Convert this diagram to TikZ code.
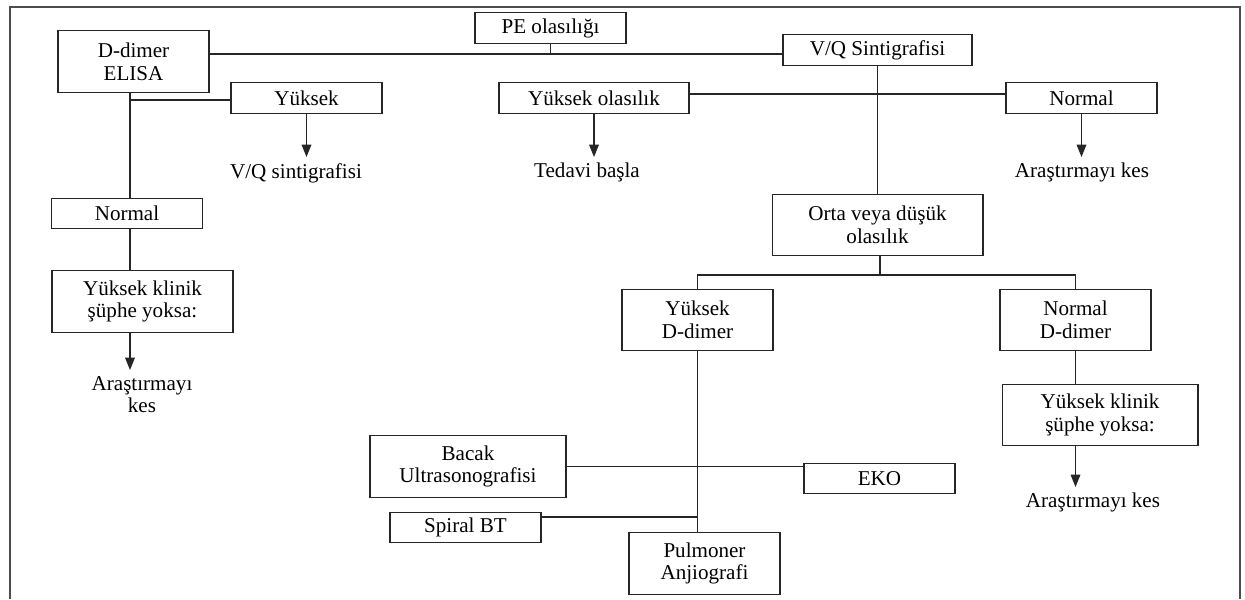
\documentclass[tikz,border=0pt]{standalone}
\usepackage{fontspec}
\setmainfont{Liberation Serif}
\usetikzlibrary{arrows.meta}

\begin{document}
\begin{tikzpicture}[
    x=0.02cm, y=-0.02cm,
    every node/.style={font=\fontsize{12}{13}\selectfont, align=center},
    kutu/.style={draw=black!85, line width=0.6pt, minimum width=3.02cm, minimum height=0.61cm, inner sep=1pt},
    ikisatir/.style={kutu, minimum height=1.23cm},
    baglanti/.style={draw=black!85, line width=0.6pt},
    kalin/.style={baglanti, line width=1.1pt},
    ok/.style={baglanti, -{Triangle[length=7pt, width=5.5pt]}},
]

    \useasboundingbox (0,0) rectangle (1245,599);
    \draw[gray!60!black, line width=1.1pt] (10,599) |- (1240,7) -- (1240,599);

    \node[ikisatir] (ddimer) at (133.5,61.5) {D-dimer\\ELISA};
    \node[kutu] (pe) at (550.5,28) {PE olasılığı};
    \node[kutu, minimum width=3.78cm] (vq) at (877.5,50) {V/Q Sintigrafisi};

    \node[kutu] (yuksekL) at (306.5,98) {Yüksek};
    \node (vqtxt) [anchor=north] at (296,157) {V/Q sintigrafisi};
    \node[kutu] (normalL) at (127,213.5) {Normal};
    \node[ikisatir, minimum width=3.62cm] (klinikL) at (142.5,301.5) {Yüksek klinik\\şüphe yoksa:};
    \node (kesL) [anchor=north] at (142,370) {Araştırmayı\\kes};

    \node[kutu, minimum width=3.8cm] (yuksekol) at (594,98) {Yüksek olasılık};
    \node (tedavi) [anchor=north] at (587,157) {Tedavi başla};
    \node[kutu] (normalR) at (1081.5,98) {Normal};
    \node (kesR) [anchor=north] at (1082,157) {Araştırmayı kes};

    \node[ikisatir, minimum width=4.22cm] (orta) at (877.5,225) {Orta veya düşük\\olasılık};
    \node[ikisatir] (yddimer) at (697.5,320) {Yüksek\\D-dimer};
    \node[ikisatir] (nddimer) at (1075.5,320) {Normal\\D-dimer};
    \node[ikisatir, minimum width=3.92cm] (klinikR) at (1100,415) {Yüksek klinik\\şüphe yoksa:};
    \node (kesR2) [anchor=north] at (1093,487) {Araştırmayı kes};

    \node[ikisatir, minimum width=3.92cm] (bacak) at (468,466.5) {Bacak\\Ultrasonografisi};
    \node[kutu] (spiral) at (465.5,527.5) {Spiral BT};
    \node[ikisatir] (pulmoner) at (704.5,563.5) {Pulmoner\\Anjiografi};
    \node[kutu] (eko) at (879.5,478.5) {EKO};

    % ust baglantilar
    \coordinate (pej) at (550.5,54);
    \draw[kalin] (ddimer.east |- pej) -- (pej);
    \draw[baglanti] (pej) -- (vq.west |- pej);
    \draw[baglanti] (pe.south) -- (pej);

    \coordinate (lv) at (130,100);
    \draw[kalin] (ddimer.south -| lv) -- (normalL.north -| lv);
    \draw[baglanti] (lv) -- (yuksekL.west |- lv);
    \draw[ok] (yuksekL.south) -- (yuksekL.south |- vqtxt.north);
    \draw[baglanti] (normalL.south -| lv) -- (klinikL.north -| lv);
    \draw[ok] (klinikL.south -| lv) -- (lv |- kesL.north);

    \coordinate (hj) at (874,94);
    \draw[baglanti] (yuksekol.east |- hj) -- (normalR.west |- hj);
    \draw[ok] (yuksekol.south) -- (yuksekol.south |- tedavi.north);
    \draw[ok] (normalR.south) -- (normalR.south |- kesR.north);
    \draw[baglanti] (vq) -- (orta);

    % orta veya dusuk olasilik
    \coordinate (oj) at (880,275);
    \draw[baglanti] (orta.south -| oj) -- (oj);
    \draw[baglanti] (yddimer.north) |- (oj) -| (nddimer.north);
    \draw[baglanti] (nddimer.south) -- (nddimer.south |- klinikR.north);
    \draw[ok] (klinikR.south -| nddimer.south) -- (nddimer.south |- kesR2.north);

    \coordinate (sj) at (697.5,517);
    \draw[baglanti] (yddimer.south) -- (yddimer.south |- pulmoner.north);
    \draw[kalin] (bacak.east) -- (yddimer.south |- bacak.east);
    \draw[baglanti] (yddimer.south |- bacak.east) -- (eko.west |- bacak.east);
    \draw[kalin] (spiral.east |- sj) -- (sj);

\end{tikzpicture}
\end{document}
